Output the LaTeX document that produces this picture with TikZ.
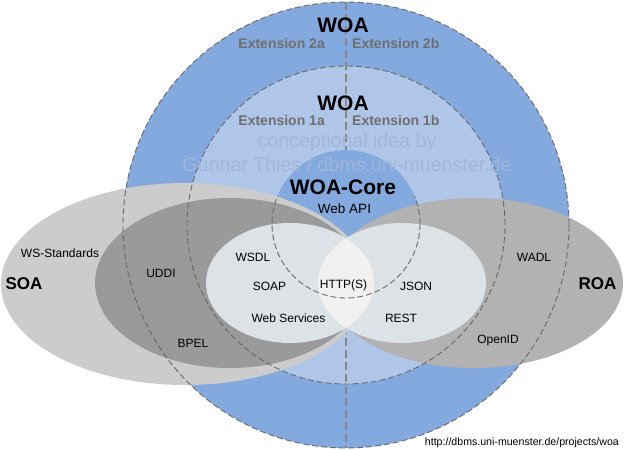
\documentclass[tikz,border=0pt]{standalone}
\usepackage{fontspec}
\setmainfont{Liberation Sans}
\definecolor{blueout}{RGB}{132,169,222}
\definecolor{bluemid}{RGB}{175,198,233}
\definecolor{soalight}{RGB}{204,204,204}
\definecolor{soadark}{RGB}{154,154,154}
\definecolor{roagray}{RGB}{178,178,178}
\definecolor{wsfill}{RGB}{220,226,229}
\definecolor{lensfill}{RGB}{241,241,241}
\definecolor{ringgray}{RGB}{105,105,105}
\definecolor{vgray}{RGB}{135,135,135}
\definecolor{extgray}{RGB}{110,110,110}
\definecolor{wmcol}{RGB}{160,182,218}
\begin{document}
\begin{tikzpicture}[x=1pt,y=-1pt,
  lbl/.style={font=\fontsize{12}{14}\selectfont, anchor=base, inner sep=0pt},
  bigt/.style={font=\bfseries\fontsize{21}{24}\selectfont, anchor=base, inner sep=0pt},
  ext/.style={font=\bfseries\fontsize{14}{16}\selectfont, text=extgray, inner sep=0pt},
  archt/.style={font=\bfseries\fontsize{17}{20}\selectfont, anchor=base, inner sep=0pt},
  wm/.style={font=\fontsize{19.6}{22}\selectfont, text=wmcol, anchor=base, inner sep=0pt},
  ring/.style={draw=ringgray, dash pattern=on 6pt off 3pt, line width=0.9pt},
  vline/.style={draw=vgray, dash pattern=on 8pt off 4pt, line width=1.6pt}]
\useasboundingbox (0,0) rectangle (624,450);
\coordinate (c) at (346,225);
\coordinate (core) at (346,224);
\coordinate (vtop) at (346,2);
\coordinate (vbot) at (346,448);
% circles
\fill[blueout] (c) circle[radius=223pt];
\fill[bluemid] (c) circle[radius=159pt];
\draw[vline] (vtop) -- (vbot);
\fill[blueout] (core) circle[radius=74pt];
% ellipses
\fill[soalight] (185,284) ellipse[x radius=184pt, y radius=101pt];
\fill[soadark] (230,283) ellipse[x radius=135pt, y radius=85pt];
\fill[roagray] (474,283) ellipse[x radius=149pt, y radius=85pt];
\fill[wsfill] (290,283) ellipse[x radius=84pt, y radius=60pt];
\fill[wsfill] (402,283) ellipse[x radius=84pt, y radius=60pt];
\begin{scope}
  \clip (290,283) ellipse[x radius=84pt, y radius=60pt];
  \fill[lensfill] (402,283) ellipse[x radius=84pt, y radius=60pt];
\end{scope}
% dashed rings
\draw[ring] (c) circle[radius=223pt];
\draw[ring] (c) circle[radius=159pt];
\begin{scope}
  \clip (200,196) rectangle (500,320);
  \draw[ring] (core) circle[radius=74pt];
\end{scope}
% texts
\node[bigt] (woa2) at (343,32.5) {WOA};
\node[ext, anchor=base east] (e2a) at (325,48) {Extension 2a};
\node[ext, anchor=base west] (e2b) at (352,48) {Extension 2b};
\node[bigt] (woa1) at (343,110.5) {WOA};
\node[ext, anchor=base east] (e1a) at (325,125) {Extension 1a};
\node[ext, anchor=base west] (e1b) at (352,125) {Extension 1b};
\node[wm] (wm1) at (347,147) {conceptional idea by};
\node[wm] (wm2) at (347,171) {Gunnar Thies / dbms.uni-muenster.de};
\node[bigt] (wcore) at (343,194) {WOA-Core};
\node[lbl, font=\fontsize{13.5}{15}\selectfont] (wapi) at (344.5,213) {Web API};
\node[archt] (soa) at (24,289) {SOA};
\node[archt] (roa) at (597.5,289) {ROA};
\node[lbl] (wss) at (60,257) {WS-Standards};
\node[lbl] (uddi) at (161,277.5) {UDDI};
\node[lbl] (bpel) at (193,347) {BPEL};
\node[lbl] (wsdl) at (253,261) {WSDL};
\node[lbl] (soap) at (269.5,290) {SOAP};
\node[lbl] (wsv) at (288.5,322.5) {Web Services};
\node[lbl] (http) at (343.5,288) {HTTP(S)};
\node[lbl] (json) at (416,290) {JSON};
\node[lbl] (rest) at (401,322.5) {REST};
\node[lbl] (wadl) at (534,261) {WADL};
\node[lbl] (oid) at (498,343) {OpenID};
\node[lbl, font=\fontsize{10.6}{12}\selectfont, anchor=base east] (url) at (619,445) {http://dbms.uni-muenster.de/projects/woa};
\end{tikzpicture}
\end{document}
